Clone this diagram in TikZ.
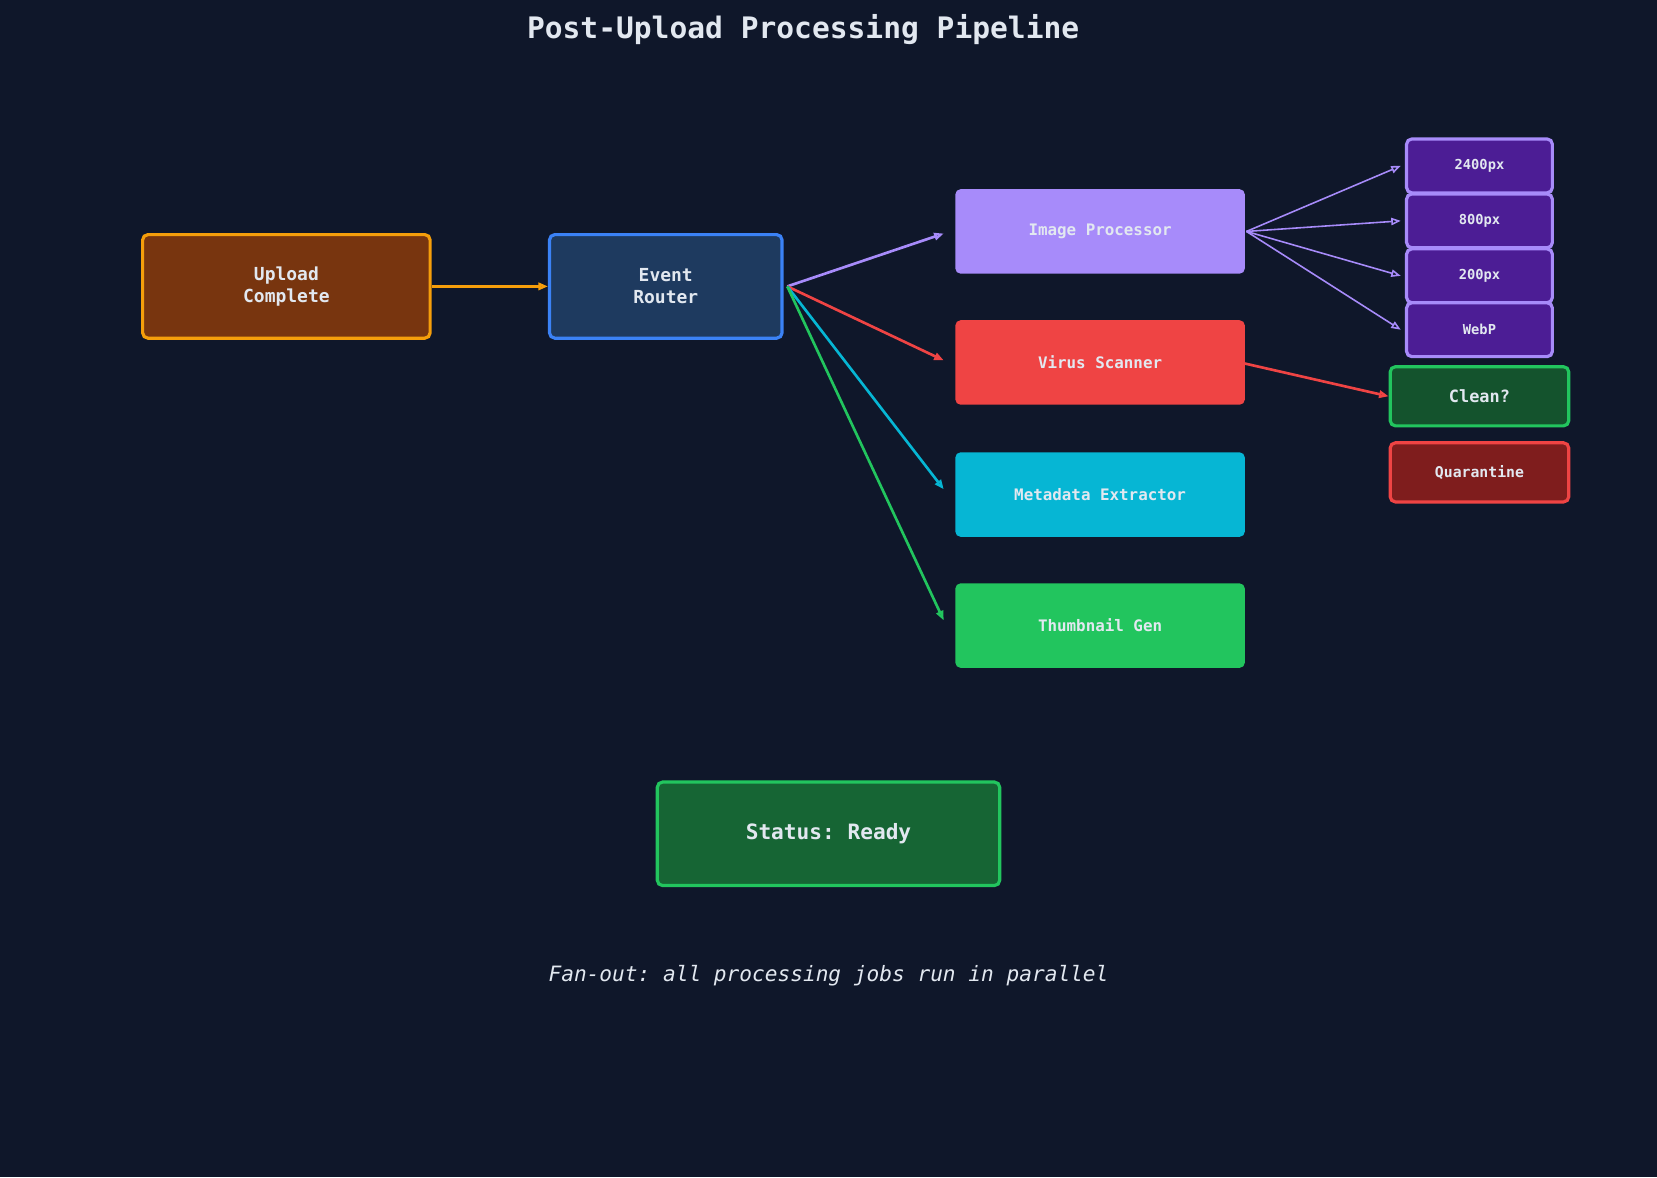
\documentclass[tikz,border=0pt]{standalone}
\usepackage{fontspec}
\setmonofont{DejaVu Sans Mono}
\usetikzlibrary{arrows.meta,backgrounds}
\definecolor{bg}{HTML}{0F172A}
\definecolor{txt}{HTML}{E2E8F0}
\definecolor{orF}{HTML}{78350F}\definecolor{orB}{HTML}{F59E0B}
\definecolor{blF}{HTML}{1E3A5F}\definecolor{blB}{HTML}{3B82F6}
\definecolor{pu}{HTML}{A78BFA}\definecolor{puF}{HTML}{4C1D95}
\definecolor{rd}{HTML}{EF4444}\definecolor{rdF}{HTML}{7F1D1D}
\definecolor{cy}{HTML}{06B6D4}
\definecolor{gr}{HTML}{22C55E}\definecolor{grF}{HTML}{166534}\definecolor{grF2}{HTML}{14532D}
\begin{document}
\begin{tikzpicture}[x=1pt,y=-1pt,
  box/.style={rounded corners=5pt,align=center,text=txt,font=\ttfamily\bfseries,inner sep=0pt,line width=3pt},
  proc/.style={box,minimum width=274pt,minimum height=80pt,font=\ttfamily\bfseries\fontsize{15}{17}\selectfont},
  sz/.style={box,draw=pu,fill=puF,minimum width=138pt,minimum height=51pt,font=\ttfamily\bfseries\fontsize{13}{15}\selectfont},
  arr/.style={-{Stealth[length=9pt,width=7pt,inset=0pt,open]}},
  fan/.style={arr,line width=2.5pt},
  thin/.style={line width=1.5pt}]
\fill[bg] (0,0) rectangle (1568,1114);
\useasboundingbox (0,0) rectangle (1568,1114);
\node[font=\ttfamily\bfseries\fontsize{28}{32}\selectfont,text=txt] (title) at (760,28) {Post-Upload Processing Pipeline};
\node[box,draw=orB,fill=orF,minimum width=272pt,minimum height=98pt,font=\ttfamily\bfseries\fontsize{17}{21}\selectfont] (up) at (271,271) {Upload\\Complete};
\node[box,draw=blB,fill=blF,minimum width=220pt,minimum height=98pt,font=\ttfamily\bfseries\fontsize{17}{21}\selectfont] (er) at (630,271) {Event\\Router};
\node[proc,fill=pu] (ip) at (1041,219) {Image Processor};
\node[proc,fill=rd] (vs) at (1041,343) {Virus Scanner};
\node[proc,fill=cy] (me) at (1041,468) {Metadata Extractor};
\node[proc,fill=gr] (th) at (1041,592) {Thumbnail Gen};
\node[box,draw=gr,fill=grF,minimum width=324pt,minimum height=98pt,font=\ttfamily\bfseries\fontsize{20}{24}\selectfont] (st) at (784,789) {Status: Ready};
\node[sz] (s1) at (1400,157) {2400px};
\node[sz] (s2) at (1400,209) {800px};
\node[sz] (s3) at (1400,261) {200px};
\node[sz] (s4) at (1400,312) {WebP};
\node[box,draw=gr,fill=grF2,minimum width=169pt,minimum height=56pt,font=\ttfamily\bfseries\fontsize{16}{18}\selectfont] (cl) at (1400,375) {Clean?};
\node[box,draw=rd,fill=rdF,minimum width=169pt,minimum height=56pt,font=\ttfamily\bfseries\fontsize{14}{16}\selectfont] (qu) at (1400,447) {Quarantine};
\node[font=\ttfamily\itshape\fontsize{20}{24}\selectfont,text=txt] (note) at (784,923) {Fan-out: all processing jobs run in parallel};
\coordinate (erR) at (745,271);
\coordinate (stT) at (788,740);
\begin{scope}[on background layer]
\fill[bg] (0,0) rectangle (1568,1114);
\draw[arr,draw=pu,thin] (ip.center) -- (stT);
\draw[arr,draw=rd,thin] (vs.center) -- (stT);
\draw[arr,draw=cy,thin] (me.center) -- (stT);
\draw[arr,draw=gr,thin] (th.center) -- (stT);
\end{scope}
\draw[fan,draw=orB,line width=3pt] (up) -- (er);
\draw[fan,draw=pu] (erR) -- (893,221);
\draw[fan,draw=rd] (erR) -- (893,341);
\draw[fan,draw=cy] (erR) -- (893,463);
\draw[fan,draw=gr] (erR) -- (893,587);
\foreach \s in {s1,s2,s3,s4} \draw[arr,draw=pu,thin] (ip.east) -- ([xshift=-4pt]\s.west);
\draw[fan,draw=rd] (1178,344) -- (cl.west);
\end{tikzpicture}
\end{document}
